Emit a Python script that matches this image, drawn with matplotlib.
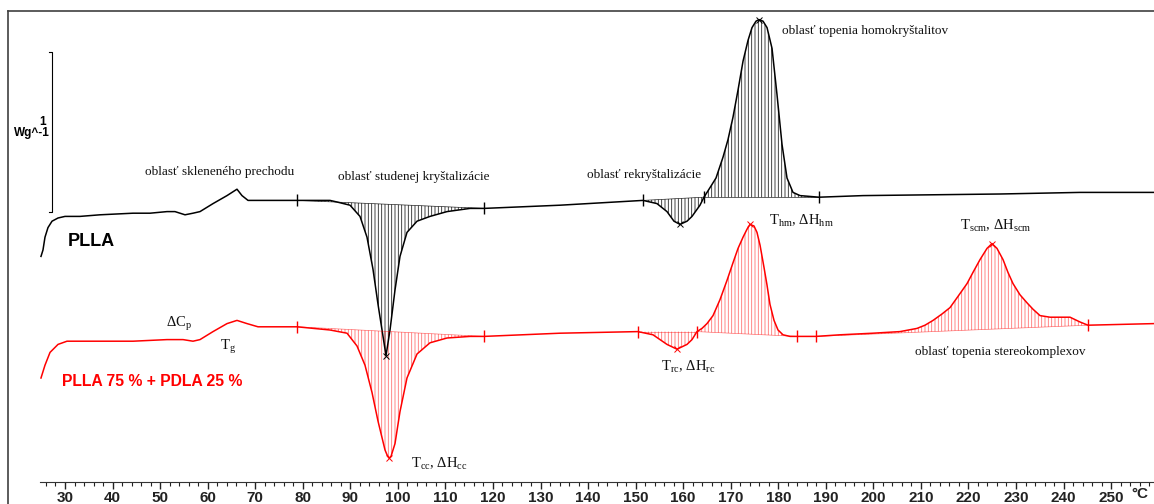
import numpy as np
import matplotlib
matplotlib.use("Agg")
import matplotlib.pyplot as plt
from matplotlib.lines import Line2D

plt.rcParams['mathtext.fontset'] = 'custom'
plt.rcParams['mathtext.rm'] = 'Liberation Serif'
plt.rcParams['mathtext.it'] = 'Liberation Serif:italic'
plt.rcParams['hatch.linewidth'] = 0.6

# PLLA (teplota v °C, tepelny tok v W/g, posunute)
plla_temp = [24.95, 25.37, 25.79, 26.42, 27.27, 28.53, 30.0, 33.15, 37.36, 44.30,
             47.88, 51.45, 53.13, 55.24, 56.92, 58.39, 61.13, 64.07, 66.17, 67.22,
             68.49, 70.59, 75.22, 78.79, 85.73, 87.20, 89.94, 92.04, 93.51, 94.77,
             95.83, 96.88, 97.51, 98.35, 99.40, 100.45, 101.92, 104.03, 106.76, 110.34,
             115.17, 118.12, 134.10, 151.56, 154.50, 156.60, 158.07, 159.34, 160.81, 161.86,
             163.54, 164.38, 165.65, 166.91, 168.38, 169.43, 170.48, 171.54, 172.59, 173.64,
             174.48, 175.32, 175.95, 176.80, 177.64, 178.69, 179.74, 180.79, 181.84, 183.10,
             184.58, 188.57, 197.83, 226.63, 243.46, 259.02]
plla_hf = [1.41, 1.45, 1.53, 1.59, 1.63, 1.65, 1.66, 1.66, 1.67, 1.68,
           1.68, 1.69, 1.69, 1.67, 1.68, 1.69, 1.74, 1.79, 1.83, 1.79,
           1.76, 1.76, 1.76, 1.76, 1.76, 1.75, 1.73, 1.66, 1.53, 1.33,
           1.11, 0.91, 0.79, 0.95, 1.20, 1.41, 1.56, 1.63, 1.66, 1.69,
           1.71, 1.71, 1.73, 1.76, 1.74, 1.69, 1.63, 1.61, 1.63, 1.66,
           1.73, 1.78, 1.84, 1.90, 2.03, 2.14, 2.28, 2.45, 2.63, 2.76,
           2.84, 2.88, 2.89, 2.88, 2.84, 2.71, 2.42, 2.11, 1.90, 1.81,
           1.79, 1.78, 1.79, 1.80, 1.81, 1.81]

# PLLA 75 % + PDLA 25 %
zmes_temp = [24.95, 25.37, 25.79, 26.85, 28.53, 30.42, 37.36, 44.30, 51.45, 54.82,
             56.92, 58.39, 61.13, 64.07, 66.17, 68.28, 70.59, 78.79, 85.73, 89.31,
             91.41, 93.09, 94.56, 95.83, 97.30, 97.72, 98.14, 98.56, 99.40, 100.45,
             101.92, 104.03, 106.76, 110.34, 115.17, 118.12, 134.10, 150.50, 153.66, 156.60,
             158.70, 160.81, 161.86, 162.91, 163.96, 165.01, 166.28, 167.75, 169.22, 170.48,
             171.54, 172.59, 173.43, 174.06, 174.90, 175.53, 176.17, 177.01, 177.64, 178.26,
             179.11, 179.95, 181.00, 182.47, 183.94, 187.94, 192.99, 199.93, 205.60, 209.18,
             210.86, 212.55, 214.43, 216.12, 217.80, 219.70, 220.95, 222.43, 223.90, 224.95,
             226.00, 227.27, 228.31, 229.37, 230.84, 232.31, 233.57, 235.05, 237.15, 239.26,
             241.36, 243.46, 245.14, 259.02]
zmes_hf = [0.65, 0.69, 0.73, 0.81, 0.86, 0.88, 0.88, 0.88, 0.89, 0.89,
           0.88, 0.89, 0.94, 0.99, 1.01, 0.99, 0.97, 0.97, 0.95, 0.93,
           0.85, 0.73, 0.56, 0.38, 0.20, 0.17, 0.15, 0.16, 0.24, 0.44,
           0.65, 0.80, 0.87, 0.90, 0.91, 0.91, 0.93, 0.94, 0.92, 0.86,
           0.83, 0.86, 0.89, 0.94, 0.96, 0.99, 1.04, 1.14, 1.26, 1.37,
           1.46, 1.53, 1.58, 1.61, 1.60, 1.56, 1.48, 1.34, 1.23, 1.11,
           1.01, 0.95, 0.92, 0.91, 0.91, 0.91, 0.92, 0.93, 0.94, 0.96,
           0.98, 1.01, 1.05, 1.09, 1.16, 1.24, 1.31, 1.39, 1.46, 1.49,
           1.46, 1.39, 1.31, 1.24, 1.17, 1.12, 1.08, 1.04, 1.03, 1.03,
           1.03, 1.00, 0.98, 0.99]

# integracne hranice a vrcholy
plla_hranice = [(78.79, 118.12), (151.56, 164.38), (164.38, 188.57)]
zmes_hranice = [(78.79, 118.12), (150.50, 162.91), (162.91, 183.94), (187.94, 245.14)]
plla_vrcholy = [97.51, 159.34, 175.95]
zmes_vrcholy = [98.14, 158.70, 174.06, 224.95]

major_ticks = np.arange(30, 251, 10)
minor_ticks = np.arange(26, 259, 2)

SERIF = ['Liberation Serif', 'DejaVu Serif']
SANS = ['Liberation Sans', 'DejaVu Sans']


def vysrafuj(ax, t, hf, t0, t1, farba):
    t = np.asarray(t)
    hf = np.asarray(hf)
    m = (t >= t0) & (t <= t1)
    y0, y1 = np.interp([t0, t1], t, hf)
    zaklad = y0 + (y1 - y0) * (t[m] - t0) / (t1 - t0)
    ax.plot([t0, t1], [y0, y1], color=farba, lw=0.5)
    ax.fill_between(t[m], hf[m], zaklad, facecolor='none', edgecolor=farba,
                    hatch='|||||', linewidth=0)


fig = plt.figure(figsize=(11.54, 5.04), dpi=100)
ax = fig.add_axes([0, 22 / 504, 1, 471 / 504])
ax.set_xlim(16.33, 259.02)
ax.set_ylim(0, 471 / 160)

for krivka_t, krivka_hf, hranice, vrcholy, farba, hatch_farba in [
        (plla_temp, plla_hf, plla_hranice, plla_vrcholy, 'black', (0, 0, 0, 0.85)),
        (zmes_temp, zmes_hf, zmes_hranice, zmes_vrcholy, 'red', (1, 0, 0, 0.55))]:
    for t0, t1 in hranice:
        vysrafuj(ax, krivka_t, krivka_hf, t0, t1, hatch_farba)
    ax.plot(krivka_t, krivka_hf, color=farba, lw=1.1)
    hr = sorted(set([h for p in hranice for h in p]))
    ax.plot(hr, np.interp(hr, krivka_t, krivka_hf), ls='none', marker='|',
            ms=8, mew=1.0, color=farba)
    ax.plot(vrcholy, np.interp(vrcholy, krivka_t, krivka_hf), ls='none', marker='x',
            ms=4, mew=0.7, color=farba)

# ramik
for s in ['left', 'right']:
    ax.spines[s].set_visible(False)
ax.spines['top'].set_bounds(18.0, 259.02)
ax.spines['top'].set_color('#404040')
ax.spines['top'].set_linewidth(1.2)
ax.spines['bottom'].set_bounds(24.74, 259.02)
ax.spines['bottom'].set_color('#333333')
fig.add_artist(Line2D([8 / 1154, 8 / 1154], [0, 1 - 11 / 504], transform=fig.transFigure,
                      color='#404040', lw=1.2))

ax.set_xticks(major_ticks)
ax.set_xticks(minor_ticks, minor=True)
ax.set_yticks([])
ax.tick_params(axis='x', which='major', direction='out', length=5, width=1, pad=1.5,
               colors='#222222')
ax.tick_params(axis='x', which='minor', direction='out', length=3, width=0.8,
               colors='#222222')
for lab in ax.get_xticklabels():
    lab.set_fontfamily(SANS)
    lab.set_fontweight('bold')
    lab.set_fontsize(11)
ax.text(256.08, -0.075, '°C', ha='center', va='center', fontsize=11,
        fontweight='bold', family=SANS, color='#222222')

# meritko 1 W/g
ax.plot([26.64, 27.27, 27.27, 26.64], [2.6875, 2.6875, 1.6875, 1.6875], color='black', lw=0.8)
ax.text(25.37, 2.25, '1', ha='center', va='center', fontsize=8.5, fontweight='bold',
        family=SANS)
ax.text(26.85, 2.181, 'Wg^-1', ha='right', va='center', fontsize=8.5, fontweight='bold',
        family=SANS)

# popisy
ax.text(30.63, 1.506, 'PLLA', ha='left', va='center', fontsize=13, fontweight='bold',
        family=SANS, color='black')
ax.text(29.37, 0.625, 'PLLA 75 % + PDLA 25 %', ha='left', va='center', fontsize=11.3,
        fontweight='bold', family=SANS, color='red')

popisy = [
    (62.49, 1.9375, 'oblasť skleneného prechodu'),
    (103.4, 1.906, 'oblasť studenej kryštalizácie'),
    (151.77, 1.919, 'oblasť rekryštalizácie'),
    (198.35, 2.819, 'oblasť topenia homokryštalitov'),
    (226.63, 0.8125, 'oblasť topenia stereokomplexov'),
    (184.78, 1.631, r'T$_{\mathrm{hm}}$, ΔH$_{\mathrm{hm}}$'),
    (225.79, 1.60, r'T$_{\mathrm{scm}}$, ΔH$_{\mathrm{scm}}$'),
    (161.12, 0.719, r'T$_{\mathrm{rc}}$, ΔH$_{\mathrm{rc}}$'),
    (108.76, 0.1125, r'T$_{\mathrm{cc}}$, ΔH$_{\mathrm{cc}}$'),
    (54.08, 0.9875, r'ΔC$_{\mathrm{p}}$'),
    (64.28, 0.844, r'T$_{\mathrm{g}}$'),
]
for tx, ty, s in popisy:
    vel = 9.5 if s.startswith('oblas') else 10.5
    ax.text(tx, ty, s, ha='center', va='center', fontsize=vel, family=SERIF, color='#111111')

fig.savefig('out.png', dpi=100)
